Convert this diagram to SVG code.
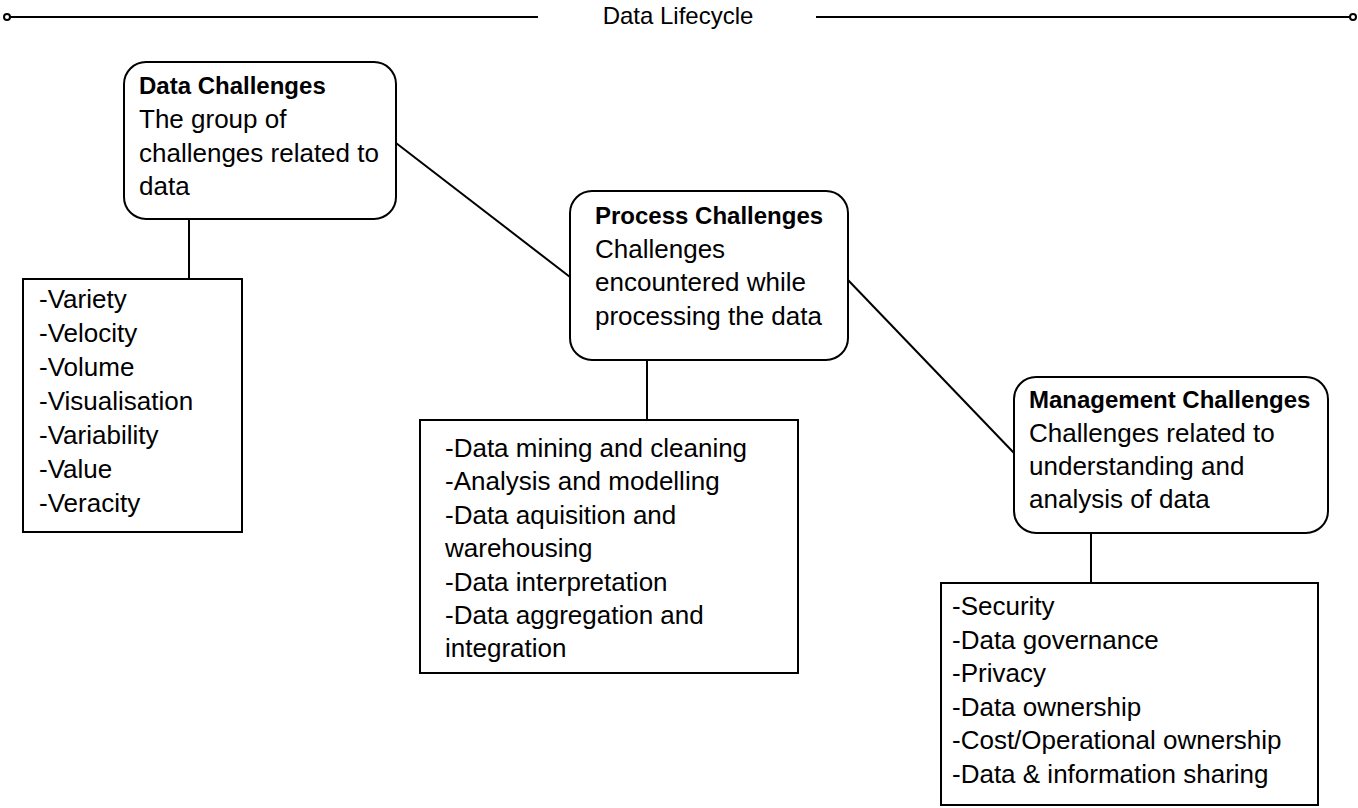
<svg xmlns="http://www.w3.org/2000/svg" width="1358" height="808" viewBox="0 0 1358 808">
<style>
.box{fill:#fff;stroke:#000;stroke-width:2}
.ln{stroke:#000;stroke-width:2;fill:none}
.t{font-family:"Liberation Sans",Arial,sans-serif;font-size:26px;fill:#000}
.h{font-family:"Liberation Sans",Arial,sans-serif;font-size:24px;font-weight:bold;fill:#000}
.title{font-family:"Liberation Sans",Arial,sans-serif;font-size:24px;fill:#000}
</style>
<rect width="1358" height="808" fill="#fff"/>
<g id="header">
<line class="ln" x1="10" y1="17" x2="538" y2="17"/>
<line class="ln" x1="816" y1="17" x2="1350" y2="17"/>
<circle cx="7" cy="17" r="3" fill="#fff" stroke="#000" stroke-width="2"/>
<circle cx="1353" cy="17" r="3" fill="#fff" stroke="#000" stroke-width="2"/>
<text class="title" x="678" y="24" text-anchor="middle">Data Lifecycle</text>
</g>
<g id="connectors">
<line class="ln" x1="396" y1="143" x2="570" y2="277"/>
<line class="ln" x1="848" y1="280" x2="1014" y2="453"/>
<line class="ln" x1="189" y1="219" x2="189" y2="279"/>
<line class="ln" x1="647" y1="360" x2="647" y2="420"/>
<line class="ln" x1="1091" y1="533" x2="1091" y2="583"/>
</g>
<g id="data-challenges">
<rect class="box" x="124" y="62" width="272" height="157" rx="22"/>
<text class="h" x="139" y="94">Data Challenges</text>
<text class="t" x="139" y="128">The group of</text>
<text class="t" x="139" y="162">challenges related to</text>
<text class="t" x="139" y="195">data</text>
</g>
<g id="data-list">
<rect class="box" x="23" y="279" width="219" height="253"/>
<text class="t" x="39" y="308">-Variety</text>
<text class="t" x="39" y="342">-Velocity</text>
<text class="t" x="39" y="376">-Volume</text>
<text class="t" x="39" y="410">-Visualisation</text>
<text class="t" x="39" y="444">-Variability</text>
<text class="t" x="39" y="478">-Value</text>
<text class="t" x="39" y="512">-Veracity</text>
</g>
<g id="process-challenges">
<rect class="box" x="570" y="191" width="278" height="169" rx="22"/>
<text class="h" x="595" y="224">Process Challenges</text>
<text class="t" x="595" y="258">Challenges</text>
<text class="t" x="595" y="291">encountered while</text>
<text class="t" x="595" y="325">processing the data</text>
</g>
<g id="process-list">
<rect class="box" x="420" y="420" width="378" height="253"/>
<text class="t" x="445" y="457">-Data mining and cleaning</text>
<text class="t" x="445" y="490">-Analysis and modelling</text>
<text class="t" x="445" y="524">-Data aquisition and</text>
<text class="t" x="445" y="557">warehousing</text>
<text class="t" x="445" y="591">-Data interpretation</text>
<text class="t" x="445" y="624">-Data aggregation and</text>
<text class="t" x="445" y="657">integration</text>
</g>
<g id="management-challenges">
<rect class="box" x="1014" y="377" width="314" height="156" rx="22"/>
<text class="h" x="1029" y="408">Management Challenges</text>
<text class="t" x="1029" y="442">Challenges related to</text>
<text class="t" x="1029" y="475">understanding and</text>
<text class="t" x="1029" y="508">analysis of data</text>
</g>
<g id="management-list">
<rect class="box" x="941" y="583" width="377" height="222"/>
<text class="t" x="952" y="615">-Security</text>
<text class="t" x="952" y="649">-Data governance</text>
<text class="t" x="952" y="682">-Privacy</text>
<text class="t" x="952" y="716">-Data ownership</text>
<text class="t" x="952" y="749">-Cost/Operational ownership</text>
<text class="t" x="952" y="783">-Data &amp; information sharing</text>
</g>
</svg>
